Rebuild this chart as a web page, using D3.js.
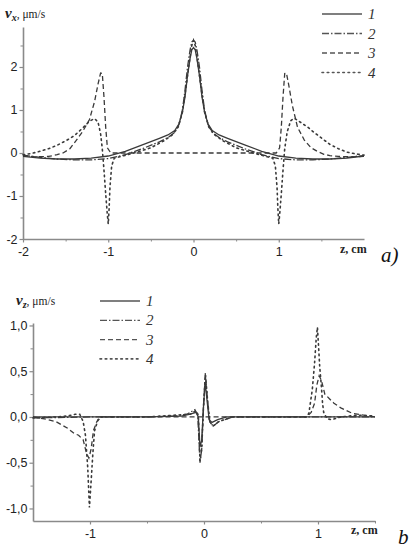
<!DOCTYPE html>
<html>
<head>
<meta charset="utf-8">
<script src="https://cdn.jsdelivr.net/npm/d3@7"></script>
<style>
  body { margin: 0; background: #fff; }
  svg { display: block; }
</style>
</head>
<body>
<div id="chart"></div>
<script>
// panel a) : v_x along z
var aZ1 = [-2, -1.8, -1.6, -1.4, -1.2, -1.0, -0.8, -0.6, -0.4, -0.3, -0.22, -0.17, -0.13, -0.1, -0.07, -0.04, -0.02, 0,
           0.02, 0.04, 0.07, 0.1, 0.13, 0.17, 0.22, 0.3, 0.4, 0.6, 0.8, 1.0, 1.2, 1.4, 1.6, 1.8, 2];
var aV1 = [-0.08, -0.12, -0.14, -0.14, -0.12, -0.07, 0.04, 0.19, 0.34, 0.42, 0.52, 0.68, 0.95, 1.3, 1.8, 2.2, 2.4, 2.45,
           2.4, 2.2, 1.8, 1.3, 0.95, 0.68, 0.52, 0.42, 0.34, 0.19, 0.04, -0.07, -0.12, -0.14, -0.14, -0.12, -0.07];
var aV2 = [-0.05, -0.1, -0.14, -0.16, -0.16, -0.13, -0.04, 0.1, 0.26, 0.36, 0.48, 0.66, 1.0, 1.45, 2.0, 2.4, 2.58, 2.62,
           2.58, 2.4, 2.0, 1.45, 1.0, 0.66, 0.48, 0.36, 0.26, 0.1, -0.04, -0.13, -0.16, -0.16, -0.14, -0.1, -0.06];
var aZ3 = [-2, -1.85, -1.7, -1.6, -1.53, -1.45, -1.38, -1.3, -1.22, -1.16, -1.12, -1.09, -1.07, -1.05, -1.03, -1.01, -0.97, -0.5, 0,
           0.5, 0.97, 1.01, 1.03, 1.05, 1.07, 1.09, 1.12, 1.16, 1.22, 1.3, 1.38, 1.45, 1.53, 1.6, 1.7, 1.85, 2];
var aV3 = [-0.06, -0.09, -0.08, -0.04, 0.0, 0.1, 0.28, 0.5, 0.78, 1.2, 1.6, 1.86, 1.85, 1.3, 0.6, 0.12, 0.0, 0.0, 0.0,
           0.0, 0.0, 0.12, 0.6, 1.3, 1.85, 1.86, 1.55, 1.1, 0.6, 0.3, 0.12, 0.04, -0.03, -0.06, -0.08, -0.09, -0.08];
var aZ4 = [-2, -1.9, -1.8, -1.7, -1.6, -1.5, -1.4, -1.3, -1.22, -1.16, -1.12, -1.09, -1.07, -1.05, -1.03, -1.01, -1.0, -0.99, -0.98,
           -0.96, -0.93, -0.85, -0.7, -0.5, -0.35, -0.25, -0.18, -0.13, -0.09, -0.05, -0.02, 0,
           0.02, 0.05, 0.09, 0.13, 0.18, 0.25, 0.35, 0.5, 0.7, 0.85, 0.93, 0.96, 0.98, 0.99, 1.0, 1.01, 1.03,
           1.05, 1.07, 1.1, 1.14, 1.18, 1.25, 1.34, 1.42, 1.5, 1.6, 1.7, 1.8, 1.9, 2];
var aV4 = [-0.04, -0.01, 0.04, 0.1, 0.18, 0.28, 0.4, 0.58, 0.74, 0.8, 0.72, 0.45, 0.1, -0.4, -0.95, -1.45, -1.65, -1.3, -0.8,
           -0.3, -0.12, -0.08, 0.0, 0.12, 0.28, 0.42, 0.6, 0.95, 1.5, 2.1, 2.5, 2.62,
           2.5, 2.1, 1.5, 0.95, 0.6, 0.42, 0.28, 0.12, 0.0, -0.08, -0.12, -0.3, -0.8, -1.3, -1.65, -1.45, -0.95,
           -0.4, 0.1, 0.5, 0.75, 0.81, 0.72, 0.6, 0.47, 0.35, 0.2, 0.1, 0.02, -0.02, -0.05];

// panel b) : v_z along z
var bZ1 = [-1.5, -1.0, -0.5, -0.2, -0.12, -0.07, -0.05, -0.035, -0.02, -0.005, 0.01, 0.025, 0.045, 0.07, 0.12, 0.2, 0.5, 1.0, 1.5];
var bV1 = [0, 0, 0, 0.01, 0.03, 0.05, 0.0, -0.33, -0.25, 0.1, 0.38, 0.2, -0.03, -0.06, -0.03, 0, 0, 0, 0];
var bZ2 = [-1.5, -1.0, -0.5, -0.25, -0.15, -0.08, -0.055, -0.035, -0.02, -0.005, 0.012, 0.03, 0.05, 0.08, 0.13, 0.25, 0.5, 1.0, 1.5];
var bV2 = [-0.01, 0, 0, 0.01, 0.03, 0.08, 0.02, -0.5, -0.35, 0.1, 0.48, 0.2, -0.05, -0.1, -0.05, 0, 0, 0, 0];
var bZ3 = [-1.5, -1.4, -1.3, -1.2, -1.14, -1.1, -1.06, -1.03, -1.01, -0.99, -0.97, -0.94, -0.9, -0.5, 0,
           0.5, 0.9, 0.94, 0.97, 0.99, 1.01, 1.03, 1.06, 1.1, 1.14, 1.2, 1.3, 1.4, 1.5];
var bV3 = [0, -0.02, -0.05, -0.12, -0.18, -0.2, -0.25, -0.4, -0.45, -0.35, -0.15, -0.05, 0, 0, 0,
           0, 0, 0.05, 0.15, 0.35, 0.45, 0.4, 0.25, 0.2, 0.15, 0.1, 0.04, 0.02, 0];
var bZ4 = [-1.5, -1.3, -1.2, -1.13, -1.09, -1.06, -1.04, -1.02, -1.005, -0.99, -0.975, -0.96, -0.93, -0.9, -0.5,
           -0.12, -0.07, -0.05, -0.035, -0.02, -0.005, 0.012, 0.03, 0.05, 0.08, 0.13, 0.25, 0.5,
           0.9, 0.92, 0.95, 0.97, 0.985, 0.995, 1.005, 1.015, 1.03, 1.04, 1.05, 1.08, 1.12, 1.2, 1.35, 1.5];
var bV4 = [-0.01, 0.0, 0.01, 0.03, 0.03, -0.05, -0.2, -0.55, -0.99, -0.7, -0.4, -0.15, -0.03, 0, 0,
           0.03, 0.07, 0.02, -0.48, -0.35, 0.1, 0.46, 0.2, -0.05, -0.1, -0.05, 0, 0,
           0, 0.04, 0.3, 0.59, 0.87, 0.98, 0.77, 0.55, 0.33, 0.15, 0.05, -0.02, -0.03, 0.0, 0.02, 0.01];

var seriesNames = ['1', '2', '3', '4'];
var dashes = [null, '7,2,1.5,2', '5,3', '1.6,3.6'];

var W = 409, H = 549;
var svg = d3.select('#chart').append('svg').attr('width', W).attr('height', H);

var ink = '#3a3a3a', axisCol = '#8a8a8a';

function drawPanel(p) {
	var x = d3.scaleLinear().domain(p.xDom).range(p.xRange);
	var y = d3.scaleLinear().domain(p.yDom).range(p.yRange);
	var g = svg.append('g');

	// minor ticks first
	g.append('g').attr('transform', 'translate(0,' + p.yRange[0] + ')')
		.call(d3.axisBottom(x).tickValues(p.xMinor).tickSize(2.5).tickFormat(''))
		.call(function(s) { s.select('.domain').remove(); s.selectAll('line').attr('stroke', axisCol); });
	g.append('g').attr('transform', 'translate(' + p.xRange[0] + ',0)')
		.call(d3.axisLeft(y).tickValues(p.yMinor).tickSize(2.5).tickFormat(''))
		.call(function(s) { s.select('.domain').remove(); s.selectAll('line').attr('stroke', axisCol); });

	var xa = g.append('g').attr('transform', 'translate(0,' + p.yRange[0] + ')')
		.call(d3.axisBottom(x).tickValues(p.xTicks).tickSize(3.5).tickSizeOuter(0).tickPadding(5).tickFormat(p.fmtX));
	var ya = g.append('g').attr('transform', 'translate(' + p.xRange[0] + ',0)')
		.call(d3.axisLeft(y).tickValues(p.yTicks).tickSize(3.5).tickSizeOuter(0).tickPadding(2).tickFormat(p.fmtY));
	[xa, ya].forEach(function(a) {
		a.select('.domain').attr('stroke', axisCol).attr('stroke-width', 1.6);
		a.selectAll('line').attr('stroke', axisCol).attr('stroke-width', 1.2);
		a.selectAll('text').attr('fill', '#222')
			.attr('font-family', 'Liberation Sans, Arial, sans-serif').attr('font-size', '12.5px');
	});

	var line = d3.line()
		.x(function(d) { return x(d[0]); })
		.y(function(d) { return y(d[1]); });

	p.series.forEach(function(s, i) {
		var pts = d3.zip(s[0], s[1]);
		g.append('path')
			.attr('d', line(pts))
			.attr('fill', 'none')
			.attr('stroke', ink)
			.attr('stroke-width', i == 3 ? 1.6 : 1.3)
			.attr('stroke-linecap', i == 3 ? 'round' : 'butt')
			.attr('stroke-dasharray', dashes[i]);
	});

	// legend
	seriesNames.forEach(function(n, i) {
		var ly = p.legY + i * p.legStep;
		g.append('line')
			.attr('x1', p.legX).attr('x2', p.legX + 40)
			.attr('y1', ly).attr('y2', ly)
			.attr('stroke', '#555').attr('stroke-width', i == 3 ? 1.6 : 1.3)
			.attr('stroke-linecap', i == 3 ? 'round' : 'butt')
			.attr('stroke-dasharray', dashes[i]);
		g.append('text')
			.attr('x', p.legX + 46).attr('y', ly + 5)
			.attr('font-family', 'Liberation Serif, Times New Roman, serif')
			.attr('font-style', 'italic').attr('font-size', '15px').attr('fill', '#333')
			.text(n);
	});

	// y label: v with subscript
	var t = g.append('text').attr('x', p.vLab[0]).attr('y', p.vLab[1])
		.attr('font-family', 'Liberation Serif, Times New Roman, serif').attr('fill', '#222');
	t.append('tspan').attr('font-weight', 'bold').attr('font-style', 'italic').attr('font-size', '15px').text('v');
	t.append('tspan').attr('font-weight', 'bold').attr('font-style', 'italic').attr('font-size', '10px')
		.attr('dy', 3).text(p.sub);
	t.append('tspan').attr('font-size', '11.5px').attr('dy', -3).text(', \u03bcm/s');

	g.append('text').attr('x', p.zLab[0]).attr('y', p.zLab[1])
		.attr('font-family', 'Liberation Serif, Times New Roman, serif')
		.attr('font-weight', 'bold').attr('font-size', '12px').attr('fill', '#222')
		.text('z, cm');

	g.append('text').attr('x', p.tag[0]).attr('y', p.tag[1])
		.attr('font-family', 'Liberation Serif, Times New Roman, serif')
		.attr('font-style', 'italic').attr('font-size', '21px').attr('fill', '#111')
		.text(p.tagText);
}

var intFmt = function(d) { return String(d); };
var commaFmt = function(d) { return d.toFixed(1).replace('.', ','); };

drawPanel({
	xDom: [-2, 2], xRange: [23, 364],
	yDom: [-2, 2.93], yRange: [239, 27],
	xTicks: [-2, -1, 0, 1], xMinor: [-1.5, -0.5, 0.5, 1.5],
	yTicks: [-2, -1, 0, 1, 2], yMinor: [-1.5, -0.5, 0.5, 1.5, 2.5],
	fmtX: intFmt, fmtY: intFmt,
	series: [[aZ1, aV1], [aZ1, aV2], [aZ3, aV3], [aZ4, aV4]],
	legX: 322, legY: 14, legStep: 19.5,
	vLab: [5, 18], sub: 'x',
	zLab: [340, 253], tag: [381, 262], tagText: 'a)'
});

drawPanel({
	xDom: [-1.5, 1.5], xRange: [33, 375],
	yDom: [-1.137, 1.027], yRange: [521, 323],
	xTicks: [-1, 0, 1], xMinor: [-0.5, 0.5, 1.5],
	yTicks: [-1, -0.5, 0, 0.5, 1], yMinor: [-0.75, -0.25, 0.25, 0.75],
	fmtX: intFmt, fmtY: commaFmt,
	series: [[bZ1, bV1], [bZ2, bV2], [bZ3, bV3], [bZ4, bV4]],
	legX: 100, legY: 301, legStep: 19.3,
	vLab: [16, 305], sub: 'z',
	zLab: [351, 534], tag: [398, 544], tagText: 'b'
});
</script>
</body>
</html>
